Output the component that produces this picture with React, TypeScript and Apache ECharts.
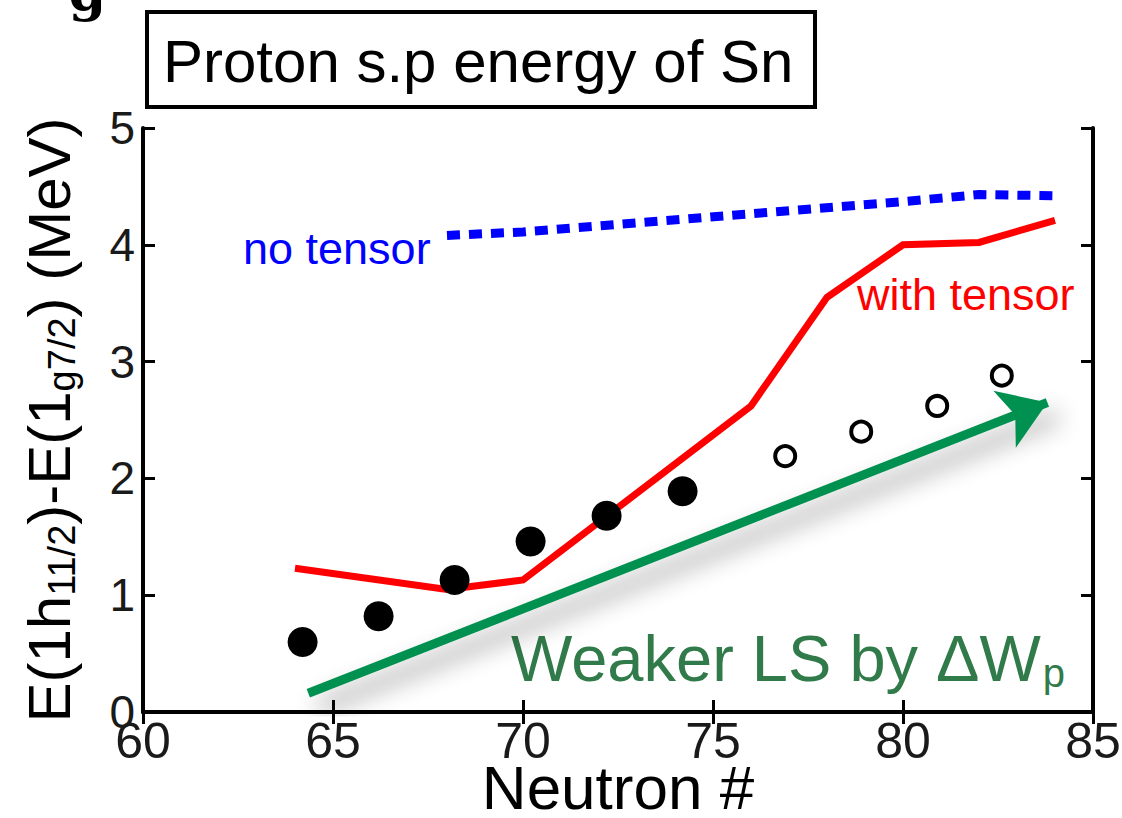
import React, { useEffect, useRef } from "react";
import * as echarts from "echarts";

// ---- data ----
const xMin = 60;
const xMax = 85;
const xStep = 5;
const yMin = 0;
const yMax = 5;
const yStep = 1;

// experimental (filled) points
const expN = [64.2, 66.2, 68.2, 70.2, 72.2, 74.2];
const expE = [0.6, 0.82, 1.13, 1.46, 1.68, 1.89];
// extrapolated (open) points
const extN = [76.9, 78.9, 80.9, 82.6];
const extE = [2.19, 2.4, 2.62, 2.88];
// "with tensor" calculation
const tensorN = [64, 68, 70, 76, 78, 80, 82, 84];
const tensorE = [1.23, 1.05, 1.13, 2.62, 3.55, 4.0, 4.02, 4.21];
// "no tensor" calculation
const noTensorN = [68, 70, 80, 82, 84];
const noTensorE = [4.08, 4.11, 4.37, 4.43, 4.42];
// trend arrow (start, tip)
const arrowFrom = [64.35, 0.16];
const arrowTo = [83.8, 2.65];

const titleText = "Proton s.p energy of Sn";
const xName = "Neutron #";
const yName = "{m|E(1h}{s|11/2}{m|)-E(1}{s|g7/2}{m|) (MeV)}";
const noTensorLabel = "no tensor";
const withTensorLabel = "with tensor";
const weakerLabel = "{m|Weaker LS by ΔW}{s|p}";

const FONT = "'Liberation Sans', Arial, Helvetica, sans-serif";
const INK = "#1a1a1a";

const zip = (a: number[], b: number[]) => a.map((v, i) => [v, b[i]]);

export default function App() {
  const ref = useRef<HTMLDivElement>(null);

  useEffect(() => {
    if (!ref.current) return;
    const chart = echarts.init(ref.current, undefined, { renderer: "svg" });

    const axisLine = { show: true, lineStyle: { color: "#000", width: 4 } };
    const tickIn = { show: true, inside: true, length: 12, lineStyle: { color: "#000", width: 3 } };

    chart.setOption({
      animation: false,
      backgroundColor: "#fff",
      grid: {
        left: 143,
        top: 128,
        right: 29,
        bottom: 106,
        containLabel: false,
        outerBoundsMode: "none",
      },
      xAxis: [
        {
          type: "value",
          min: xMin,
          max: xMax,
          interval: xStep,
          position: "bottom",
          axisLine,
          axisTick: tickIn,
          splitLine: { show: false },
          axisLabel: { fontFamily: FONT, fontSize: 50, color: INK, margin: 4 },
          name: xName,
          nameLocation: "middle",
          nameGap: 44,
          nameMoveOverlap: false,
          nameTextStyle: { fontFamily: FONT, fontSize: 62, color: "#000" },
        },
        {
          type: "value",
          min: xMin,
          max: xMax,
          interval: xStep,
          position: "top",
          axisLine,
          axisTick: tickIn,
          axisLabel: { show: false },
          splitLine: { show: false },
        },
      ],
      yAxis: [
        {
          type: "value",
          min: yMin,
          max: yMax,
          interval: yStep,
          position: "left",
          axisLine,
          axisTick: tickIn,
          splitLine: { show: false },
          axisLabel: { fontFamily: FONT, fontSize: 46, color: INK, margin: 8 },
          name: yName,
          nameLocation: "middle",
          nameGap: 62,
          nameRotate: 90,
          nameMoveOverlap: false,
          nameTextStyle: {
            fontFamily: FONT,
            color: "#000",
            rich: {
              m: { fontFamily: FONT, fontSize: 60, color: "#000" },
              s: { fontFamily: FONT, fontSize: 38, color: "#000", padding: [26, 0, 0, 0] },
            },
          },
        },
        {
          type: "value",
          min: yMin,
          max: yMax,
          interval: yStep,
          position: "right",
          axisLine,
          axisTick: tickIn,
          axisLabel: { show: false },
          splitLine: { show: false },
        },
      ],
      series: [
        {
          type: "lines",
          coordinateSystem: "cartesian2d",
          xAxisIndex: 0,
          yAxisIndex: 0,
          symbol: ["none", "arrow"],
          symbolSize: 46,
          silent: true,
          z: 1,
          lineStyle: {
            color: "#00904f",
            width: 9,
            opacity: 1,
            curveness: 0,
            shadowBlur: 24,
            shadowColor: "rgba(0,0,0,0.45)",
            shadowOffsetX: 10,
            shadowOffsetY: 14,
          },
          data: [{ coords: [arrowFrom, arrowTo] }],
        },
        {
          name: "no tensor",
          type: "line",
          data: zip(noTensorN, noTensorE),
          showSymbol: false,
          symbol: "none",
          lineStyle: { color: "#0000ff", width: 9, type: [13, 9], cap: "butt" },
          z: 2,
        },
        {
          name: "with tensor",
          type: "line",
          data: zip(tensorN, tensorE),
          showSymbol: false,
          symbol: "none",
          lineStyle: { color: "#ff0000", width: 7, join: "miter" },
          z: 3,
        },
        {
          name: "exp",
          type: "scatter",
          data: zip(expN, expE),
          symbol: "circle",
          symbolSize: 30,
          itemStyle: { color: "#000", opacity: 1 },
          z: 4,
        },
        {
          name: "extrapolated",
          type: "scatter",
          data: zip(extN, extE),
          symbol: "circle",
          symbolSize: 20,
          itemStyle: { color: "#fff", borderColor: "#000", borderWidth: 4, opacity: 1 },
          z: 4,
        },
      ],
      graphic: [
        {
          type: "text",
          left: 12,
          top: -36,
          style: { text: "·  g", font: "bold 54px 'DejaVu Serif', serif", fill: "#000" },
          silent: true,
        },
        {
          type: "rect",
          shape: { x: 147, y: 12, width: 668, height: 95 },
          style: { fill: "#fff", stroke: "#000", lineWidth: 4 },
          silent: true,
        },
        {
          type: "text",
          x: 163,
          y: 61,
          style: {
            text: titleText,
            font: `60px ${FONT}`,
            fill: "#000",
            textAlign: "left",
            textVerticalAlign: "middle",
          },
          silent: true,
        },
        {
          type: "text",
          x: 243,
          y: 248,
          style: {
            text: noTensorLabel,
            font: `45px ${FONT}`,
            fill: "#0000ff",
            textAlign: "left",
            textVerticalAlign: "middle",
          },
          silent: true,
        },
        {
          type: "text",
          x: 857,
          y: 294,
          style: {
            text: withTensorLabel,
            font: `45px ${FONT}`,
            fill: "#ff0000",
            textAlign: "left",
            textVerticalAlign: "middle",
          },
          silent: true,
        },
        {
          type: "text",
          x: 511,
          y: 658,
          style: {
            text: weakerLabel,
            fill: "#317a4a",
            textAlign: "left",
            textVerticalAlign: "middle",
            rich: {
              m: { fontFamily: FONT, fontSize: 65, fill: "#317a4a", color: "#317a4a" },
              s: {
                fontFamily: FONT,
                fontSize: 40,
                fill: "#317a4a",
                color: "#317a4a",
                padding: [30, 0, 0, 2],
              },
            },
          },
          silent: true,
        },
      ],
    });

    return () => chart.dispose();
  }, []);

  return (
    <div
      ref={ref}
      style={{ position: "absolute", left: 0, top: 0, width: 1122, height: 818, background: "#fff" }}
    />
  );
}
